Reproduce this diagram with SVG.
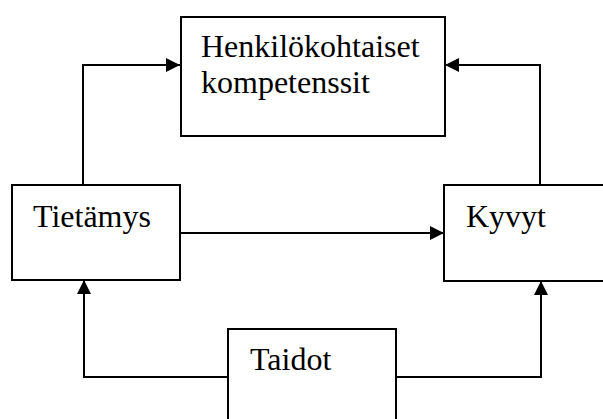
<svg xmlns="http://www.w3.org/2000/svg" width="603" height="419" viewBox="0 0 603 419">
  <style>
    .box { fill: #fff; stroke: #000; stroke-width: 2; }
    .lbl { font-family: 'Liberation Serif', 'Times New Roman', Times, serif; font-size: 32px; fill: #000; }
    .wire { fill: none; stroke: #000; stroke-width: 2; }
  </style>
  <defs>
    <marker id="arrow" markerUnits="userSpaceOnUse" markerWidth="14" markerHeight="14" viewBox="0 0 14 14" refX="14" refY="7" orient="auto">
      <path d="M0,0 L14,7 L0,14 Z" fill="#000"/>
    </marker>
  </defs>
  <rect width="603" height="419" fill="#fff"/>

  <g id="connectors">
    <!-- Tietämys up to competences -->
    <polyline class="wire" points="83,185 83,65 180,65" marker-end="url(#arrow)"/>
    <!-- Kyvyt up to competences -->
    <polyline class="wire" points="540,185 540,65 445,65" marker-end="url(#arrow)"/>
    <!-- Tietämys to Kyvyt -->
    <line class="wire" x1="180" y1="233" x2="444" y2="233" marker-end="url(#arrow)"/>
    <!-- Taidot to Tietämys -->
    <polyline class="wire" points="228,377 84,377 84,280" marker-end="url(#arrow)"/>
    <!-- Taidot to Kyvyt -->
    <polyline class="wire" points="396,377 541,377 541,281" marker-end="url(#arrow)"/>
  </g>

  <g id="kompetenssit">
    <rect class="box" x="181" y="17" width="264" height="119"/>
    <text class="lbl" x="201" y="57">Henkilökohtaiset</text>
    <text class="lbl" x="201" y="93">kompetenssit</text>
  </g>

  <g id="tietamys">
    <rect class="box" x="12" y="185" width="168" height="95"/>
    <text class="lbl" x="33" y="227">Tietämys</text>
  </g>

  <g id="kyvyt">
    <rect class="box" x="444" y="185" width="170" height="96"/>
    <text class="lbl" x="466" y="227">Kyvyt</text>
  </g>

  <g id="taidot">
    <rect class="box" x="228" y="329" width="168" height="100"/>
    <text class="lbl" x="250" y="370">Taidot</text>
  </g>
</svg>
